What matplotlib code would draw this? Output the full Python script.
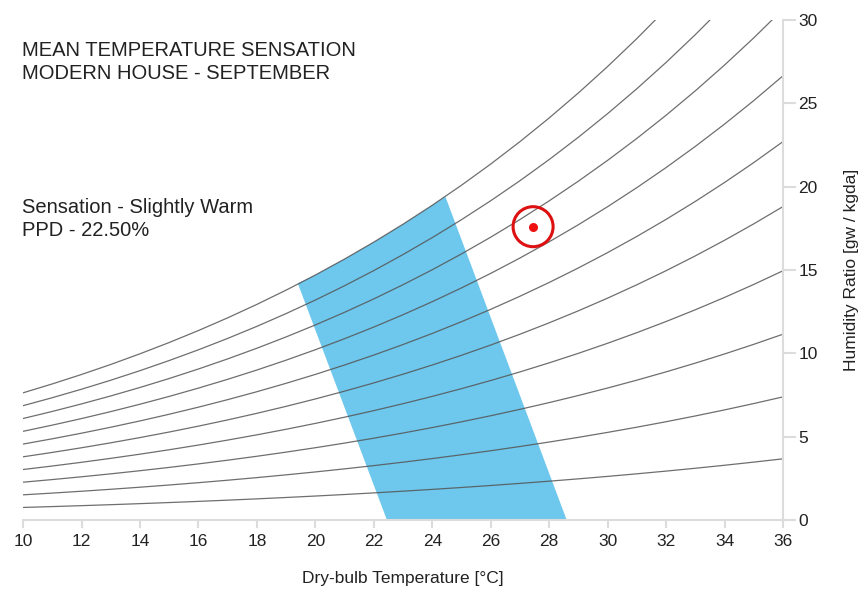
import matplotlib
matplotlib.use("Agg")
import matplotlib.pyplot as plt
import numpy as np

plt.rcParams['font.family'] = ['Liberation Sans', 'DejaVu Sans']

# saturation vapour pressure of water [kPa] at integer dry-bulb temperatures
temps = [10, 11, 12, 13, 14, 15, 16, 17, 18, 19, 20, 21, 22, 23, 24, 25, 26,
         27, 28, 29, 30, 31, 32, 33, 34, 35, 36]
p_sat = [1.2282, 1.3130, 1.4028, 1.4981, 1.5990, 1.7058, 1.8188, 1.9384,
         2.0647, 2.1983, 2.3393, 2.4882, 2.6453, 2.8111, 2.9858, 3.1699,
         3.3639, 3.5681, 3.7831, 4.0092, 4.2470, 4.4969, 4.7596, 5.0354,
         5.3251, 5.6290, 5.9479]
rh_levels = [0.1, 0.2, 0.3, 0.4, 0.5, 0.6, 0.7, 0.8, 0.9, 1.0]
p_atm = 101.325

# comfort zone corners (temperature, humidity ratio)
zone_bottom_t = [22.45, 28.6]
zone_top_t = [24.45, 19.4]
zone_top_w = [19.4, 14.2]

# mean indoor condition
mean_t = 27.45
mean_w = 17.6

x_ticks = list(range(10, 37, 2))
y_ticks = [0, 5, 10, 15, 20, 25, 30]


def humidity_ratio(rh, p):
    p = np.asarray(p)
    return 622.0 * rh * p / (p_atm - rh * p)


fig = plt.figure(figsize=(8.63, 5.89), dpi=100)
ax = fig.add_axes([0.0267, 0.1171, 0.8806, 0.8489])

# comfort polygon, upper edge runs along the saturation curve
t_arr = np.array(temps)
w_sat = humidity_ratio(1.0, p_sat)
inner = (t_arr > zone_top_t[1]) & (t_arr < zone_top_t[0])
poly_t = zone_bottom_t + [zone_top_t[0]] + list(t_arr[inner][::-1]) + [zone_top_t[1]]
poly_w = [0, 0, zone_top_w[0]] + list(w_sat[inner][::-1]) + [zone_top_w[1]]
ax.fill(poly_t, poly_w, color='#6ec7ec', lw=0, zorder=1)

for rh in rh_levels:
    ax.plot(temps, humidity_ratio(rh, p_sat), color='#555555', lw=0.9,
            alpha=0.85, zorder=2)

ax.scatter([mean_t], [mean_w], s=830, facecolors='none', edgecolors='#dd1111',
           linewidths=2.2, zorder=4)
ax.scatter([mean_t], [mean_w], s=30, color='#ee1111', zorder=4)

ax.set_xlim(10, 36)
ax.set_ylim(0, 30)
ax.set_xticks(x_ticks)
ax.set_yticks(y_ticks)

for side in ['left', 'top']:
    ax.spines[side].set_visible(False)
for side in ['right', 'bottom']:
    ax.spines[side].set_color('#dcdcdc')
    ax.spines[side].set_linewidth(1.5)
ax.yaxis.tick_right()
ax.yaxis.set_label_position('right')
ax.tick_params(axis='y', colors='#dcdcdc', labelcolor='#222222', length=9,
               width=1.5, labelsize=12.5, pad=2)
ax.tick_params(axis='x', colors='#dcdcdc', labelcolor='#222222', length=6,
               width=1.5, labelsize=12.5, pad=4)

ax.set_xlabel('Dry-bulb Temperature [°C]', fontsize=12.5, color='#222222',
              labelpad=16)
ax.set_ylabel('Humidity Ratio [gw / kgda]', fontsize=12.5, color='#222222',
              labelpad=19)

fig.text(0.025, 0.930, 'MEAN TEMPERATURE SENSATION\nMODERN HOUSE - SEPTEMBER',
         fontsize=14.5, color='#222222', va='top', linespacing=1.25)
fig.text(0.025, 0.663, 'Sensation - Slightly Warm\nPPD - 22.50%',
         fontsize=14.5, color='#222222', va='top', linespacing=1.25)

fig.savefig('out.png', dpi=100)
